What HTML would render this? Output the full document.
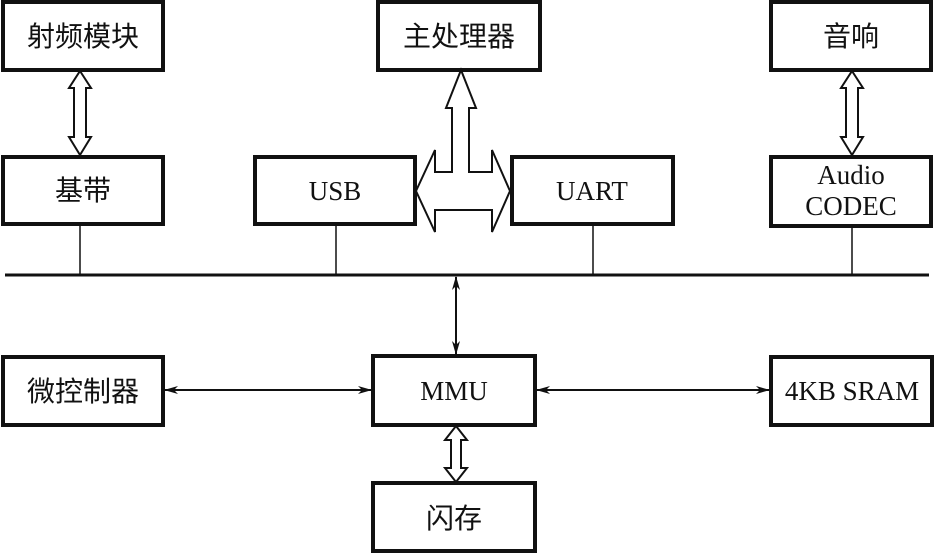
<!DOCTYPE html>
<html><head><meta charset="utf-8"><style>
html,body{margin:0;padding:0;background:#fff;}
svg{display:block;}
text{font-family:"Liberation Serif","Noto Serif CJK SC",serif;fill:#111;}
.cn{font-family:"Liberation Serif","Noto Sans CJK SC",sans-serif;font-size:28px;}
.en{font-size:27px;}
</style></head><body>
<svg width="944" height="553" viewBox="0 0 944 553" xmlns="http://www.w3.org/2000/svg">
<defs>
<marker id="ah" markerWidth="14" markerHeight="8" refX="13" refY="4" orient="auto-start-reverse" markerUnits="userSpaceOnUse">
<path d="M0,0 L14,4 L0,8 L4,4 Z" fill="#111"/>
</marker>
</defs>
<g fill="#fff" stroke="#111" stroke-width="4">
<rect x="3" y="2" width="160" height="68"/>
<rect x="3" y="157" width="160" height="67"/>
<rect x="378" y="2" width="162" height="68"/>
<rect x="255" y="157" width="160" height="67"/>
<rect x="512" y="157" width="161" height="67"/>
<rect x="771" y="2" width="160" height="68"/>
<rect x="771" y="157" width="160" height="69"/>
<rect x="3" y="357" width="160" height="68"/>
<rect x="373" y="356" width="162" height="69"/>
<rect x="771" y="357" width="161" height="68"/>
<rect x="373" y="483" width="162" height="68"/>
</g>
<line x1="5" y1="275" x2="929" y2="275" stroke="#111" stroke-width="3"/>
<g stroke="#111" stroke-width="1.5">
<line x1="80" y1="224" x2="80" y2="275"/>
<line x1="336" y1="224" x2="336" y2="275"/>
<line x1="593" y1="224" x2="593" y2="275"/>
<line x1="852" y1="226" x2="852" y2="275"/>
</g>
<g stroke="#111" stroke-width="2" fill="none">
<line x1="456" y1="277" x2="456" y2="354" marker-start="url(#ah)" marker-end="url(#ah)"/>
<line x1="165" y1="390" x2="371" y2="390" marker-start="url(#ah)" marker-end="url(#ah)"/>
<line x1="537" y1="390" x2="769" y2="390" marker-start="url(#ah)" marker-end="url(#ah)"/>
</g>
<g fill="#fff" stroke="#111" stroke-width="2">
<path d="M461,70 L476,108 L469,108 L469,172 L492,172 L492,150 L510,191 L492,232 L492,210 L435,210 L435,232 L416,191 L435,150 L435,172 L452,172 L452,108 L446,108 Z"/>
<path d="M80,71 L91,88 L86,88 L86,137 L91,137 L80,155 L69,137 L74,137 L74,88 L69,88 Z"/>
<path d="M852,71 L863,88 L858,88 L858,137 L863,137 L852,155 L841,137 L846,137 L846,88 L841,88 Z"/>
<path d="M456,426 L467,440 L461,440 L461,468 L467,468 L456,482 L445,468 L451,468 L451,440 L445,440 Z"/>
</g>
<g text-anchor="middle">
<text class="cn" x="83" y="46">射频模块</text>
<text class="cn" x="83" y="200">基带</text>
<text class="cn" x="459" y="46">主处理器</text>
<text class="cn" x="851" y="46">音响</text>
<text class="cn" x="83" y="401">微控制器</text>
<text class="cn" x="454" y="528">闪存</text>
<text class="en" x="335" y="200">USB</text>
<text class="en" x="592" y="200">UART</text>
<text class="en" x="851" y="184">Audio</text>
<text class="en" x="851" y="215">CODEC</text>
<text class="en" x="454" y="400">MMU</text>
<text class="en" x="852" y="400">4KB SRAM</text>
</g>
</svg>
</body></html>
